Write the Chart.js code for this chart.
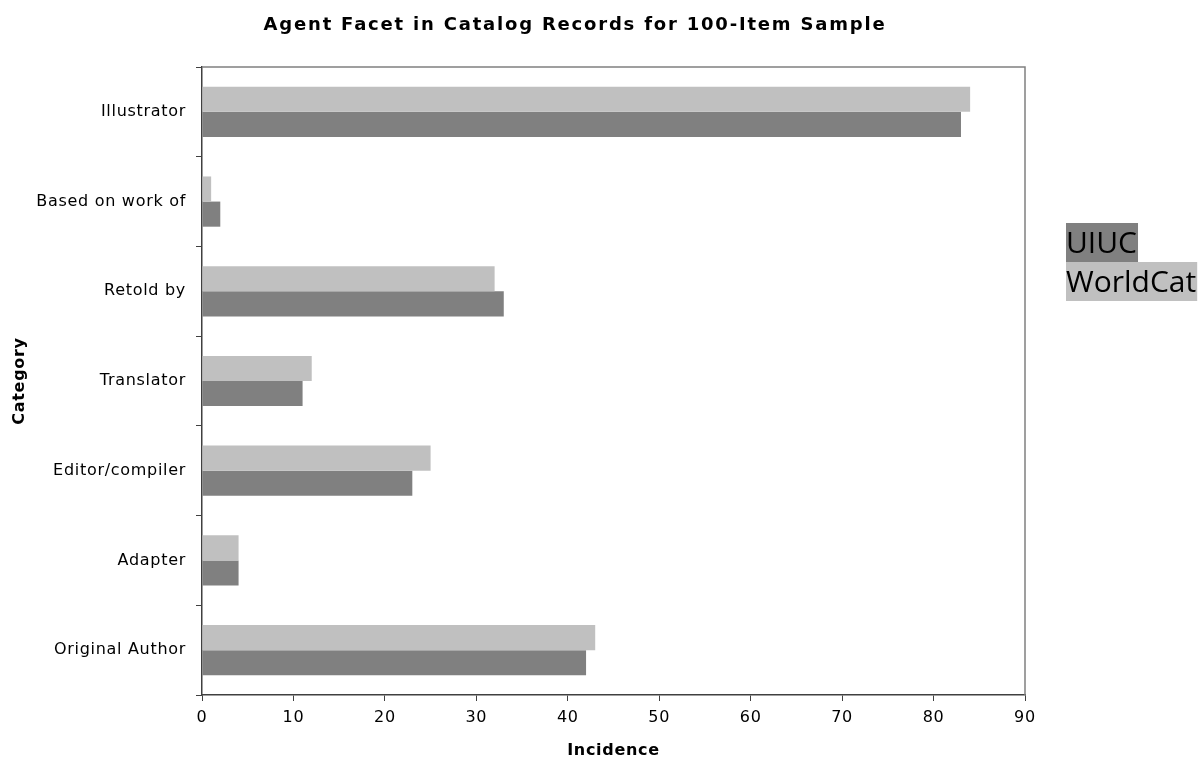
<!DOCTYPE html>
<html>
<body style="margin:0;background:#fff">
    <canvas id="myChart" width="1203" height="764"></canvas>

    <script src="https://cdn.jsdelivr.net/npm/chart.js@4.4.1/dist/chart.umd.min.js"></script>
    <script>
        // categories top to bottom
        const categories = ["Illustrator", "Based on work of", "Retold by", "Translator", "Editor/compiler", "Adapter", "Original Author"];
        const worldcatValues = [84, 1, 32, 12, 25, 4, 43];
        const uiucValues = [83, 2, 33, 11, 23, 4, 42];
        const xTicks = [0, 10, 20, 30, 40, 50, 60, 70, 80, 90];
        const chartTitle = "Agent Facet in Catalog Records for 100-Item Sample";

        const font = "'DejaVu Sans', Verdana, sans-serif";

        // the original font is wider, so space the letters a bit
        const spacing = {
            id: "spacing",
            beforeDraw(chart) { chart.ctx.letterSpacing = "0.7px"; }
        };

        // title, plot frame and the boxed legend on the right
        const extras = {
            id: "extras",
            afterDraw(chart) {
                const ctx = chart.ctx;
                const a = chart.chartArea;
                ctx.save();
                ctx.strokeStyle = "#808080";
                ctx.lineWidth = 1.5;
                ctx.beginPath();
                ctx.moveTo(a.left, a.top);
                ctx.lineTo(a.right, a.top);
                ctx.lineTo(a.right, a.bottom);
                ctx.stroke();

                ctx.fillStyle = "#000";
                ctx.font = "bold 18px " + font;
                ctx.letterSpacing = "1.8px";
                ctx.textAlign = "center";
                ctx.textBaseline = "middle";
                ctx.fillText(chartTitle, 575, 25);

                // legend, UIUC first
                ctx.font = "30px 'Open Sans', sans-serif";
                ctx.letterSpacing = "0px";
                ctx.textAlign = "left";
                const items = chart.data.datasets.slice().reverse();
                let y = 223;
                items.forEach(ds => {
                    const w = ctx.measureText(ds.label).width;
                    ctx.fillStyle = ds.backgroundColor;
                    ctx.fillRect(1066, y, w + 1, 39);
                    ctx.fillStyle = "#000";
                    ctx.fillText(ds.label, 1066, y + 21);
                    y += 39;
                });
                ctx.restore();
            }
        };

        const myChart = new Chart("myChart", {
            type: "bar",
            data: {
                labels: categories,
                datasets: [
                    {label: "WorldCat", data: worldcatValues, backgroundColor: "#c0c0c0"},
                    {label: "UIUC", data: uiucValues, backgroundColor: "#808080"}
                ]
            },
            options: {
                indexAxis: "y",
                responsive: false,
                animation: false,
                categoryPercentage: 0.56,
                barPercentage: 1,
                layout: {padding: {top: 67, right: 178, left: 0, bottom: 0}},
                plugins: {
                    legend: {display: false},
                    tooltip: {enabled: false}
                },
                scales: {
                    x: {
                        min: 0, max: 90,
                        afterBuildTicks: s => { s.ticks = xTicks.map(v => ({value: v})); },
                        afterFit: s => { s.height = 69; },
                        border: {color: "#404040", width: 1.5},
                        grid: {drawOnChartArea: false, tickLength: 6, color: "#404040"},
                        ticks: {color: "#000", font: {family: font, size: 16}, padding: 7},
                        title: {display: true, text: "Incidence", color: "#000", font: {family: font, size: 16, weight: "bold"}, padding: {top: 5}}
                    },
                    y: {
                        afterFit: s => { s.width = 202; },
                        border: {color: "#404040", width: 1.5},
                        grid: {drawOnChartArea: false, tickLength: 6, color: "#404040", offset: true},
                        ticks: {color: "#000", font: {family: font, size: 16}, padding: 10},
                        title: {display: true, text: "Category", color: "#000", font: {family: font, size: 16, weight: "bold"}, padding: {top: 10, bottom: 0}}
                    }
                }
            },
            plugins: [spacing, extras]
        });
    </script>
</body>
</html>
